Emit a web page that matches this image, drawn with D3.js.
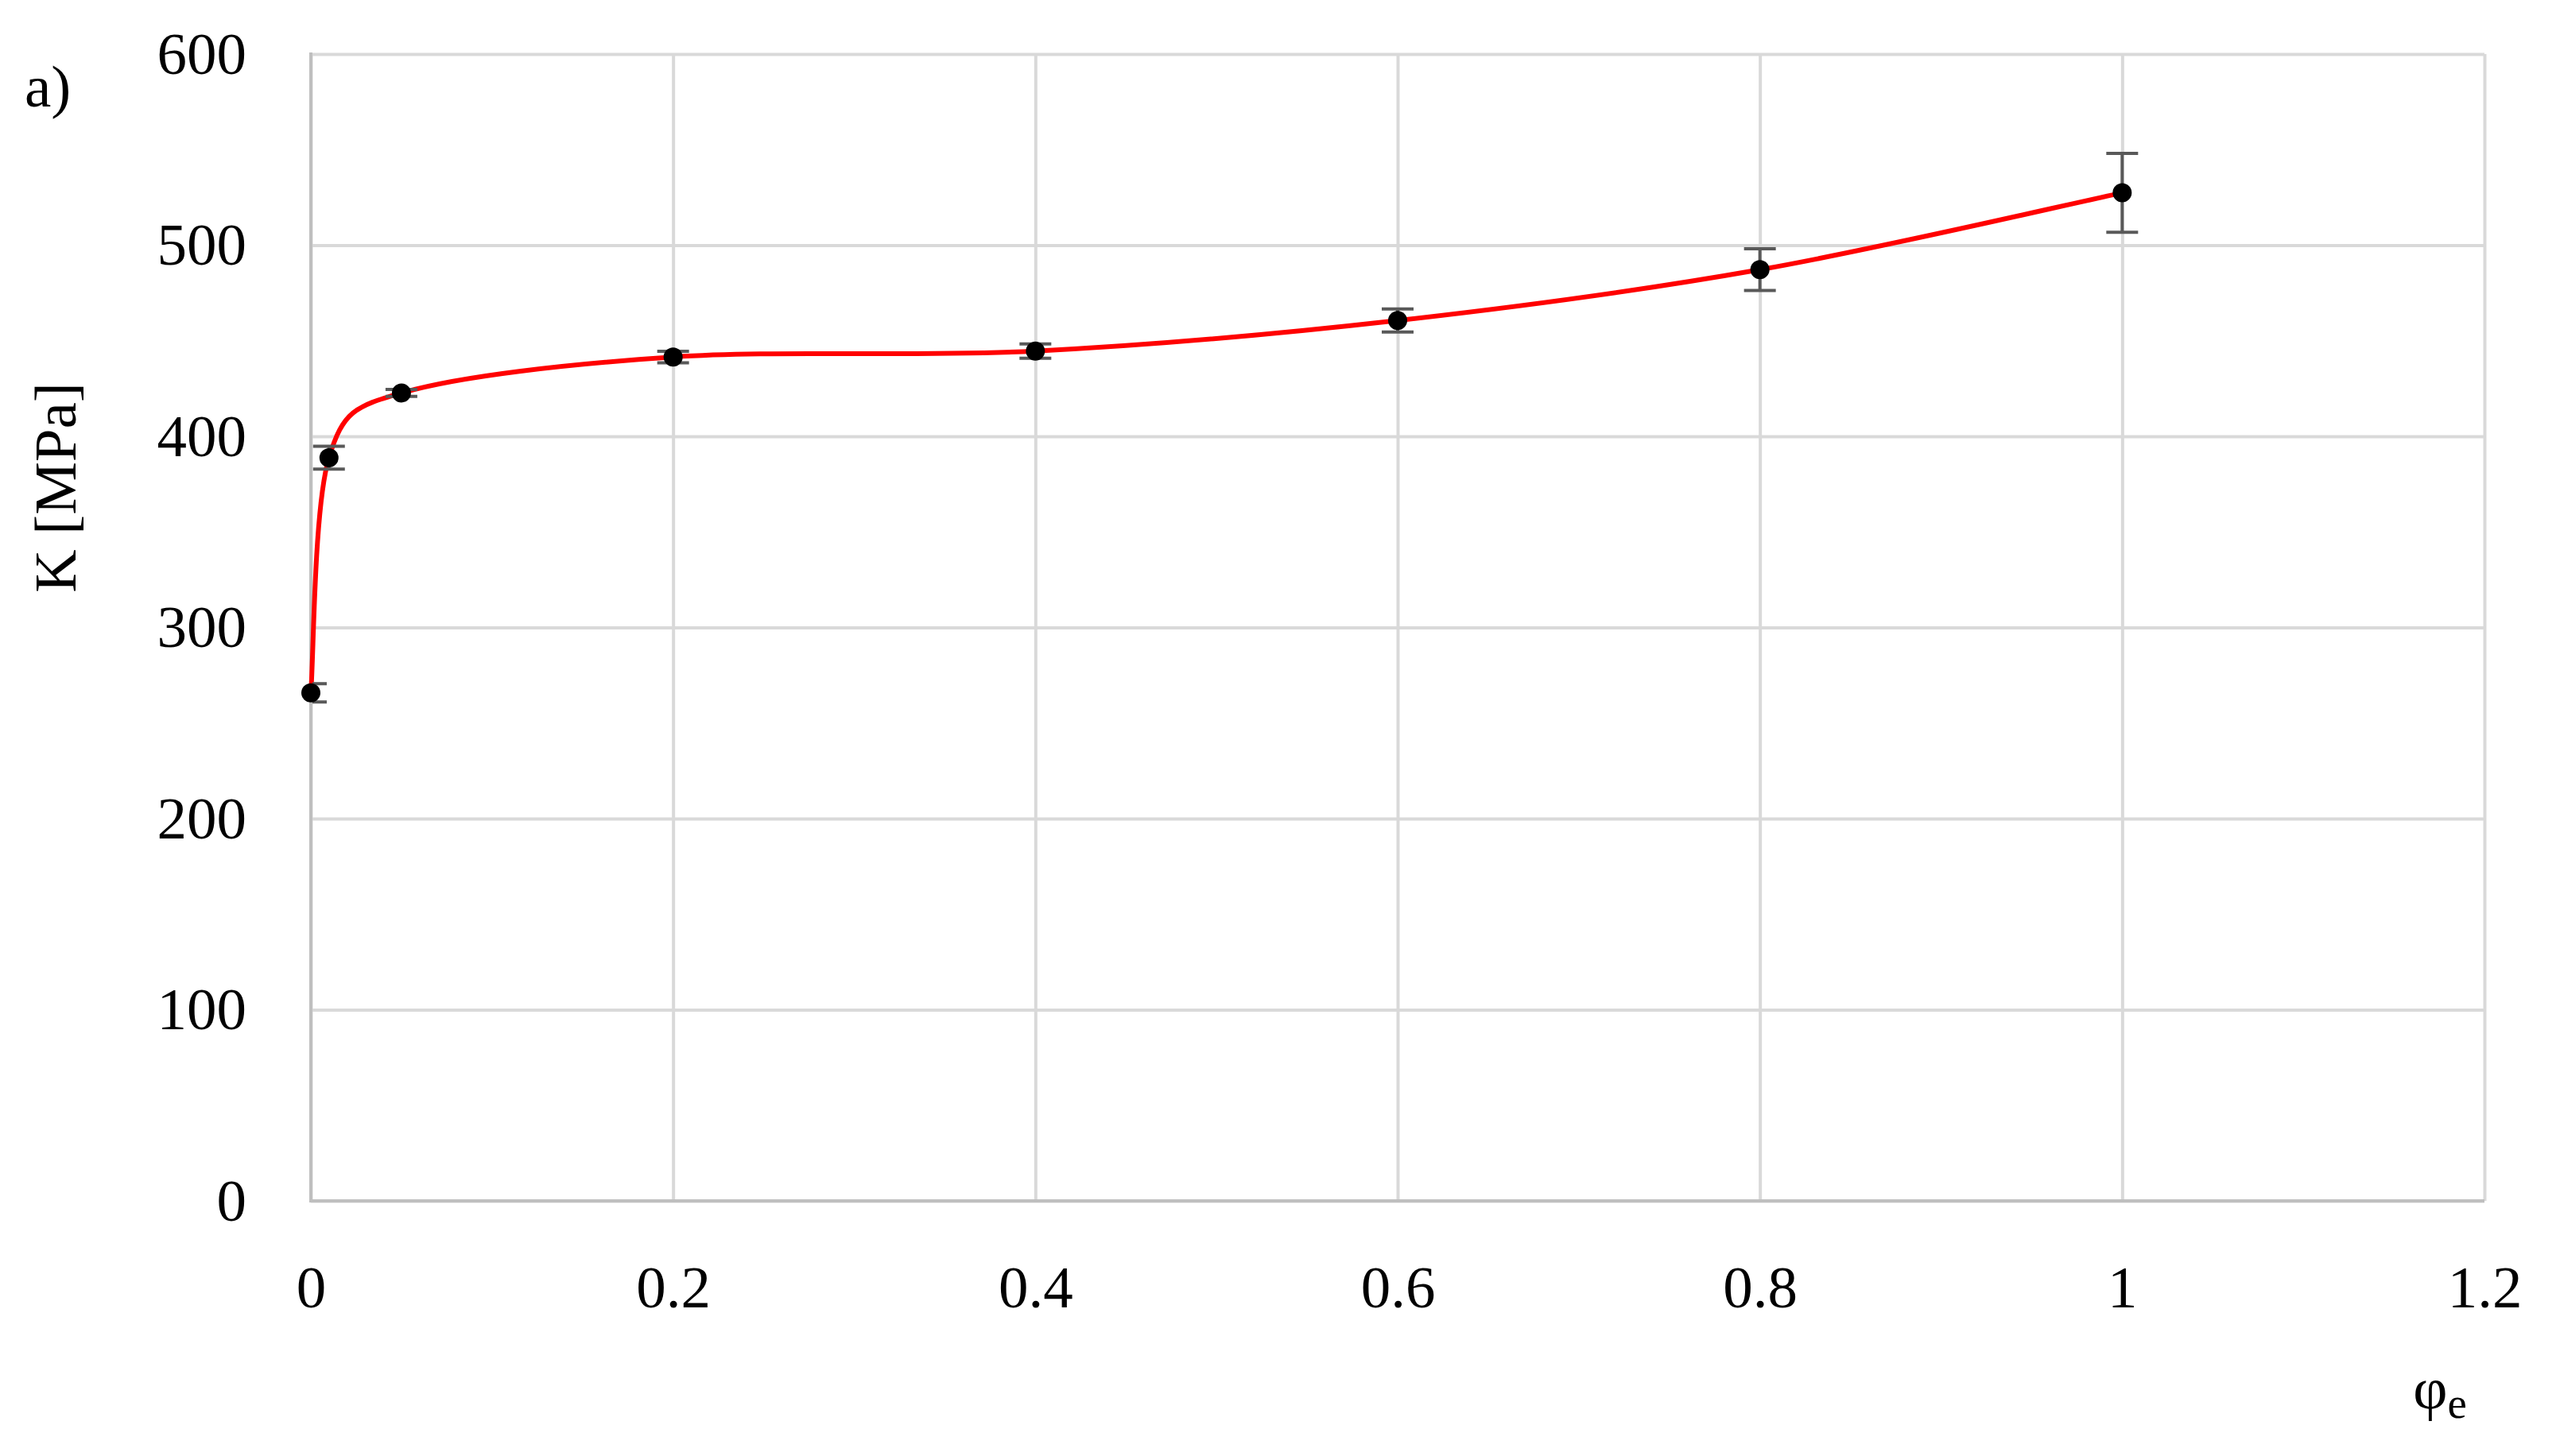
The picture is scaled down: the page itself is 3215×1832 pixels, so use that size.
<!DOCTYPE html>
<html>
<head>
<meta charset="utf-8">
<script src="https://cdn.jsdelivr.net/npm/d3@7"></script>
<style>
  body { margin: 0; background: #fff; }
  text { font-family: "Liberation Serif", "DejaVu Serif", serif; fill: #000; }
</style>
</head>
<body>
<div id="chart"></div>
<script>
'use strict';

// measured strain values and flow stress K with error bars
var strain = [0, 0.01, 0.05, 0.2, 0.4, 0.6, 0.8, 1.0];
var stress = [265.8, 388.8, 422.7, 441.5, 444.6, 460.6, 487.2, 527.4];
var stressErr = [4.8, 6.0, 1.8, 3.0, 3.7, 6.0, 10.9, 20.6];

var xTicks = [0, 0.2, 0.4, 0.6, 0.8, 1, 1.2];
var yTicks = [0, 100, 200, 300, 400, 500, 600];

var W = 3215, H = 1832;
var margin = {top: 68, right: 90, bottom: 321, left: 391};
var width = W - margin.left - margin.right;
var height = H - margin.top - margin.bottom;
var fontSize = 75;

var svg = d3.select('#chart').append('svg')
    .attr('width', W)
    .attr('height', H);

svg.append('rect')
    .attr('width', W)
    .attr('height', H)
    .attr('fill', '#fff');

var g = svg.append('g')
    .attr('transform', 'translate(' + margin.left + ',' + margin.top + ')');

var x = d3.scaleLinear().domain([0, 1.2]).range([0, width]);
var y = d3.scaleLinear().domain([0, 600]).range([height, 0]);

// gridlines + tick labels
var yAxis = g.append('g')
    .call(d3.axisLeft(y).tickValues(yTicks).tickSize(-width).tickPadding(81));
var xAxis = g.append('g')
    .attr('transform', 'translate(0,' + height + ')')
    .call(d3.axisBottom(x).tickValues(xTicks).tickSize(-height).tickPadding(81)
        .tickFormat(function(d){ return String(d); }));

[xAxis, yAxis].forEach(function(a){
    a.select('.domain').remove();
    a.selectAll('.tick line')
        .attr('stroke', '#d9d9d9')
        .attr('stroke-width', 4);
    a.selectAll('.tick text')
        .attr('font-size', fontSize)
        .attr('font-family', '"Liberation Serif", serif')
        .attr('fill', '#000');
});

// left and bottom axis lines (darker)
g.append('line')
    .attr('x1', x(0)).attr('x2', x(0))
    .attr('y1', y(600) - 2).attr('y2', y(0) + 2)
    .attr('stroke', '#bfbfbf').attr('stroke-width', 4);
g.append('line')
    .attr('x1', x(0) - 2).attr('x2', x(1.2))
    .attr('y1', y(0)).attr('y2', y(0))
    .attr('stroke', '#bfbfbf').attr('stroke-width', 4);

var pts = strain.map(function(s, i){
    return {x: s, y: stress[i], e: stressErr[i]};
});

// smoothed trend, spreadsheet-style bezier (1/6 tension, capped at half a segment)
function smoothPath(p) {
    var path = d3.path();
    var dist = function(a, b){ return Math.hypot(b[0] - a[0], b[1] - a[1]); };
    path.moveTo(p[0][0], p[0][1]);
    for (var i = 0; i < p.length - 1; i++) {
        var p0 = p[i - 1] || p[i], p1 = p[i], p2 = p[i + 1], p3 = p[i + 2] || p[i + 1];
        var d12 = dist(p1, p2), d02 = dist(p0, p2), d13 = dist(p1, p3);
        var f1 = (d02 / 6 < d12 / 2) ? 1 / 6 : d12 / (2 * d02);
        var f2 = (d13 / 6 < d12 / 2) ? 1 / 6 : d12 / (2 * d13);
        path.bezierCurveTo(
            p1[0] + f1 * (p2[0] - p0[0]), p1[1] + f1 * (p2[1] - p0[1]),
            p2[0] - f2 * (p3[0] - p1[0]), p2[1] - f2 * (p3[1] - p1[1]),
            p2[0], p2[1]);
    }
    return path.toString();
}

g.append('path')
    .attr('d', smoothPath(pts.map(function(d){ return [x(d.x), y(d.y)]; })))
    .attr('fill', 'none')
    .attr('stroke', '#ff0000')
    .attr('stroke-width', 6);

// error bars, clipped to the plot area
g.append('clipPath').attr('id', 'plotclip')
  .append('rect')
    .attr('x', 2).attr('y', 0)
    .attr('width', width).attr('height', height);

var bars = g.append('g')
    .attr('clip-path', 'url(#plotclip)')
    .attr('stroke', '#595959')
    .attr('stroke-width', 4);
var capW = 20;

bars.selectAll('.stem').data(pts).enter().append('line')
    .attr('x1', function(d){ return x(d.x); })
    .attr('x2', function(d){ return x(d.x); })
    .attr('y1', function(d){ return y(d.y - d.e); })
    .attr('y2', function(d){ return y(d.y + d.e); });
bars.selectAll('.capTop').data(pts).enter().append('line')
    .attr('x1', function(d){ return x(d.x) - capW; })
    .attr('x2', function(d){ return x(d.x) + capW; })
    .attr('y1', function(d){ return y(d.y + d.e); })
    .attr('y2', function(d){ return y(d.y + d.e); });
bars.selectAll('.capBot').data(pts).enter().append('line')
    .attr('x1', function(d){ return x(d.x) - capW; })
    .attr('x2', function(d){ return x(d.x) + capW; })
    .attr('y1', function(d){ return y(d.y - d.e); })
    .attr('y2', function(d){ return y(d.y - d.e); });

// markers
g.selectAll('.dot').data(pts).enter().append('circle')
    .attr('cx', function(d){ return x(d.x); })
    .attr('cy', function(d){ return y(d.y); })
    .attr('r', 12)
    .attr('fill', '#000');

// labels
svg.append('text')
    .attr('x', 31).attr('y', 134)
    .attr('font-size', fontSize)
    .text('a)');

svg.append('text')
    .attr('transform', 'translate(95,' + (margin.top + height * 0.378) + ') rotate(-90)')
    .attr('text-anchor', 'middle')
    .attr('font-size', fontSize)
    .text('K [MPa]');

var xl = svg.append('text')
    .attr('x', 3103).attr('y', 1772)
    .attr('text-anchor', 'end')
    .attr('font-size', fontSize);
xl.append('tspan').text('φ');
xl.append('tspan').attr('font-size', 55).attr('dy', 12).text('e');
</script>
</body>
</html>
